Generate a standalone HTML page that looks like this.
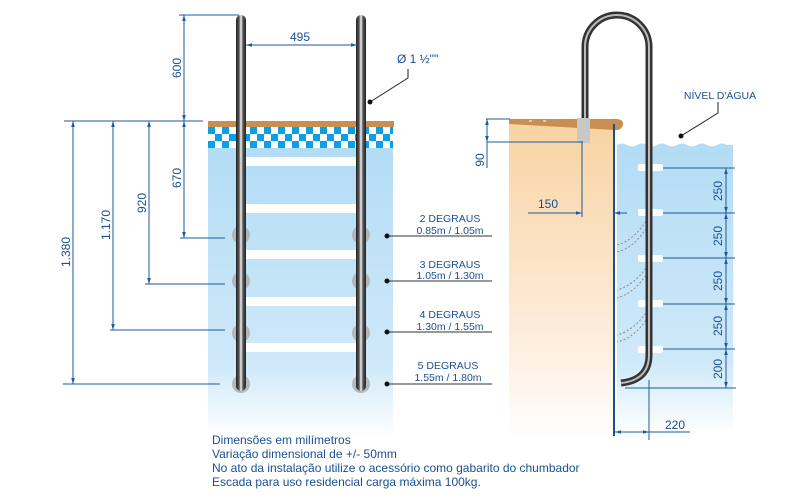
<!DOCTYPE html>
<html><head><meta charset="utf-8"><style>
body{margin:0;background:#fff}
svg{display:block}
text{font-family:"Liberation Sans",sans-serif;fill:#1a4f92}
</style></head><body>
<svg width="800" height="500" viewBox="0 0 800 500" xmlns="http://www.w3.org/2000/svg">
<defs>
<linearGradient id="wat" x1="0" y1="0" x2="0" y2="1"><stop offset="0" stop-color="#b3dcf5"/><stop offset="0.75" stop-color="#cfe9f9"/><stop offset="1" stop-color="#fff"/></linearGradient>
<linearGradient id="sand" x1="0" y1="0" x2="0" y2="1"><stop offset="0" stop-color="#f8d3a2"/><stop offset="0.7" stop-color="#fdeedd"/><stop offset="1" stop-color="#fff"/></linearGradient>
<linearGradient id="rail" x1="0" y1="0" x2="1" y2="0"><stop offset="0" stop-color="#222"/><stop offset="0.3" stop-color="#555"/><stop offset="0.5" stop-color="#f4f4f4"/><stop offset="0.7" stop-color="#555"/><stop offset="1" stop-color="#222"/></linearGradient>
<pattern id="chk" x="208" y="127" width="14" height="14" patternUnits="userSpaceOnUse"><rect width="14" height="14" fill="#fff"/><rect width="7" height="7" fill="#0aa0e6"/><rect x="7" y="7" width="7" height="7" fill="#0aa0e6"/></pattern>
<marker id="a" viewBox="0 0 10 10" refX="10" refY="5" markerWidth="6" markerHeight="6" orient="auto-start-reverse"><path d="M0,2 L10,5 L0,8z" fill="#1c5a9c"/></marker>
</defs>
<!-- left pool -->
<rect x="208" y="148" width="185" height="290" fill="url(#wat)"/>
<rect x="208" y="127" width="185" height="21" fill="url(#chk)"/>
<rect x="208" y="121" width="186" height="6" fill="#c98e52"/>
<g fill="#fff"><rect x="241" y="157" width="120" height="9"/><rect x="241" y="204" width="120" height="9"/><rect x="241" y="250" width="120" height="9"/><rect x="241" y="297" width="120" height="9"/><rect x="241" y="343" width="120" height="9"/></g>
<g fill="#aaa" opacity="0.8"><circle cx="241" cy="235" r="9"/><circle cx="361" cy="235" r="9"/><circle cx="241" cy="281" r="9"/><circle cx="361" cy="281" r="9"/><circle cx="241" cy="333" r="9"/><circle cx="361" cy="333" r="9"/><circle cx="241" cy="384" r="9"/><circle cx="361" cy="384" r="9"/></g>
<rect x="236" y="15" width="10" height="376" rx="5" fill="url(#rail)"/>
<rect x="356" y="15" width="10" height="376" rx="5" fill="url(#rail)"/>
<!-- left dims -->
<g stroke="#1c5a9c" stroke-width="1" fill="none">
<line x1="179" y1="15" x2="239" y2="15"/>
<line x1="64" y1="121" x2="203" y2="121"/>
<line x1="184" y1="15" x2="184" y2="121" marker-start="url(#a)" marker-end="url(#a)"/>
<line x1="184" y1="121" x2="184" y2="238" marker-start="url(#a)" marker-end="url(#a)"/>
<line x1="180" y1="238" x2="225" y2="238"/>
<line x1="149" y1="121" x2="149" y2="284" marker-start="url(#a)" marker-end="url(#a)"/>
<line x1="145" y1="284" x2="225" y2="284"/>
<line x1="113" y1="121" x2="113" y2="330" marker-start="url(#a)" marker-end="url(#a)"/>
<line x1="110" y1="330" x2="225" y2="330"/>
<line x1="73" y1="121" x2="73" y2="384" marker-start="url(#a)" marker-end="url(#a)"/>
<line x1="63" y1="384" x2="220" y2="384"/>
<line x1="246" y1="45" x2="357" y2="45" marker-start="url(#a)" marker-end="url(#a)"/>
</g>
<g font-size="12" text-anchor="middle">
<text x="300" y="41">495</text>
<text transform="translate(181,68) rotate(-90)">600</text>
<text transform="translate(181,178) rotate(-90)">670</text>
<text transform="translate(146,203) rotate(-90)">920</text>
<text transform="translate(110,225) rotate(-90)">1.170</text>
<text transform="translate(70,252) rotate(-90)">1.380</text>
</g>
<text x="397" y="63" font-size="12">Ø 1 ½""</text>
<path d="M408,69 L408,78 L370,102" stroke="#222" fill="none"/><circle cx="370" cy="102" r="2.5" fill="#111"/>
<g stroke="#333" fill="none"><line x1="385" y1="236" x2="492" y2="236"/><line x1="385" y1="281" x2="492" y2="281"/><line x1="385" y1="332" x2="492" y2="332"/><line x1="385" y1="384" x2="492" y2="384"/></g>
<g fill="#111"><circle cx="387" cy="236" r="2.5"/><circle cx="387" cy="281" r="2.5"/><circle cx="387" cy="332" r="2.5"/><circle cx="387" cy="384" r="2.5"/></g>
<g font-size="10.5" text-anchor="middle">
<text x="450" y="222">2 DEGRAUS</text><text x="450" y="234">0.85m / 1.05m</text>
<text x="450" y="268">3 DEGRAUS</text><text x="450" y="279">1.05m / 1.30m</text>
<text x="450" y="318">4 DEGRAUS</text><text x="450" y="330">1.30m / 1.55m</text>
<text x="448" y="369">5 DEGRAUS</text><text x="448" y="381">1.55m / 1.80m</text>
</g>
<g font-size="12"><text x="212" y="444">Dimensões em milímetros</text><text x="212" y="458">Variação dimensional de +/- 50mm</text><text x="212" y="472">No ato da instalação utilize o acessório como gabarito do chumbador</text><text x="212" y="486">Escada para uso residencial carga máxima 100kg.</text></g>
<!-- right -->
<rect x="509" y="123" width="105" height="315" fill="url(#sand)"/>
<path d="M617,145 Q622,142 627,145 T637,145 T647,145 T657,145 T667,145 T677,145 T687,145 T697,145 T707,145 T717,145 T727,145 L733,145 L733,435 L617,435z" fill="url(#wat)"/>
<path d="M509,119 L612,119 Q624,118 623,125 Q621,131 614,130 L509,124z" fill="#c98e52"/>
<line x1="529" y1="121" x2="532" y2="121" stroke="#fff"/><line x1="543" y1="121" x2="546" y2="121" stroke="#fff"/>
<line x1="614" y1="124" x2="614" y2="436" stroke="#1c4f8f" stroke-width="2"/>
<g fill="#fff"><rect x="638" y="164" width="25" height="7" rx="2"/><rect x="638" y="209" width="25" height="7" rx="2"/><rect x="638" y="255" width="25" height="7" rx="2"/><rect x="638" y="300" width="25" height="7" rx="2"/><rect x="638" y="346" width="25" height="7" rx="2"/></g>
<g stroke="#888" stroke-dasharray="2,2" fill="none"><path d="M648,218 Q635,240 617,245"/><path d="M648,225 Q635,248 617,252"/><path d="M648,265 Q635,285 617,290"/><path d="M648,272 Q635,293 617,298"/><path d="M648,310 Q635,330 617,335"/><path d="M648,317 Q635,338 617,342"/></g>
<path d="M585,118 L585,47 A32,32 0 0 1 649,47 L649,355 Q649,380 621,383" stroke="#333" stroke-width="7" fill="none"/>
<path d="M585,118 L585,47 A32,32 0 0 1 649,47 L649,355 Q649,380 621,383" stroke="#bbb" stroke-width="2" fill="none"/>
<rect x="577" y="118" width="13" height="25" fill="#c8c8c8"/>
<g stroke="#1c5a9c" fill="none">
<line x1="486" y1="119" x2="510" y2="119"/><line x1="487" y1="142" x2="583" y2="142"/>
<line x1="487" y1="119" x2="487" y2="168"/><line x1="487" y1="128" x2="487" y2="119" marker-end="url(#a)"/><line x1="487" y1="133" x2="487" y2="142" marker-end="url(#a)"/>
<line x1="582" y1="142" x2="582" y2="217"/>
<line x1="528" y1="213" x2="582" y2="213" marker-end="url(#a)"/><line x1="627" y1="213" x2="614" y2="213" marker-end="url(#a)"/>
<line x1="663" y1="168" x2="735" y2="168"/><line x1="663" y1="213" x2="735" y2="213"/><line x1="663" y1="258" x2="735" y2="258"/><line x1="663" y1="304" x2="735" y2="304"/><line x1="663" y1="349" x2="735" y2="349"/><line x1="625" y1="388" x2="736" y2="388"/>
<line x1="726" y1="168" x2="726" y2="213" marker-start="url(#a)" marker-end="url(#a)"/>
<line x1="726" y1="213" x2="726" y2="258" marker-start="url(#a)" marker-end="url(#a)"/>
<line x1="726" y1="258" x2="726" y2="304" marker-start="url(#a)" marker-end="url(#a)"/>
<line x1="726" y1="304" x2="726" y2="349" marker-start="url(#a)" marker-end="url(#a)"/>
<line x1="726" y1="349" x2="726" y2="388" marker-start="url(#a)" marker-end="url(#a)"/>
<line x1="649" y1="380" x2="649" y2="440"/>
<line x1="615" y1="432" x2="649" y2="432" marker-start="url(#a)" marker-end="url(#a)"/><line x1="649" y1="432" x2="690" y2="432"/>
</g>
<g font-size="12" text-anchor="middle">
<text transform="translate(484,160) rotate(-90)">90</text>
<text x="548" y="208">150</text>
<text x="675" y="429">220</text>
<text transform="translate(722,191) rotate(-90)">250</text>
<text transform="translate(722,236) rotate(-90)">250</text>
<text transform="translate(722,281) rotate(-90)">250</text>
<text transform="translate(722,326) rotate(-90)">250</text>
<text transform="translate(722,369) rotate(-90)">200</text>
</g>
<text x="720" y="99" font-size="10.5" text-anchor="middle">NÍVEL D'ÁGUA</text>
<path d="M718,102 L718,113 L681,136" stroke="#222" fill="none"/><circle cx="681" cy="136" r="2.5" fill="#111"/>
</svg>
</body></html>
